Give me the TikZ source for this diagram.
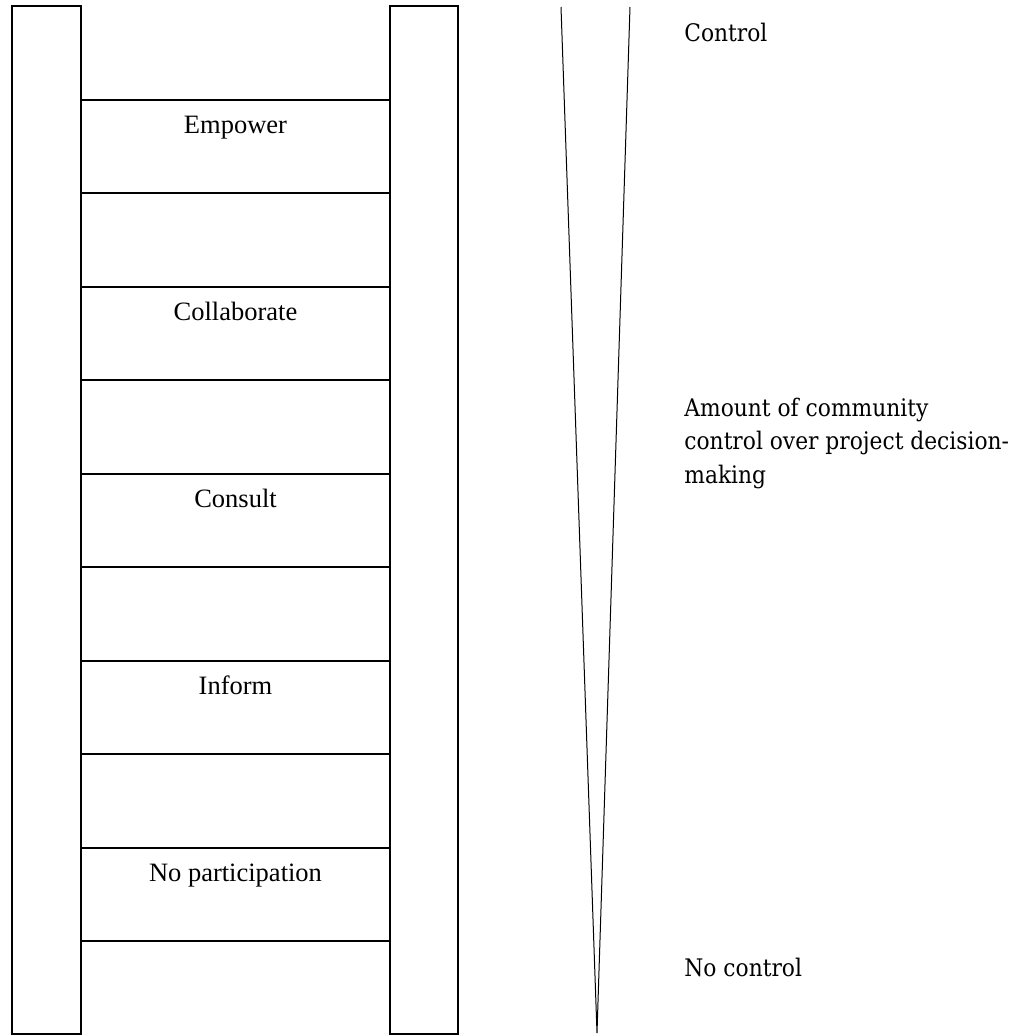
\documentclass[tikz,border=0pt]{standalone}
\usepackage{fontspec}
\setmainfont{Liberation Serif}
\newfontfamily\sidefont{DejaVu Serif Condensed}
\usetikzlibrary{calc,positioning}

\begin{document}
\begin{tikzpicture}[
    x=0.5pt, y=-0.5pt,
    rail/.style={draw, line width=1pt},
    rung/.style={draw, line width=1pt, minimum width=154.5pt, minimum height=46.5pt, inner sep=0pt},
    rungtext/.style={anchor=base, font=\fontsize{13.25}{16}\selectfont},
    sidetext/.style={anchor=base west, align=left, inner sep=0pt, font=\sidefont\fontsize{12.1}{16.75}\selectfont},
    wedge/.style={line width=0.5pt},
]
\useasboundingbox (0,0) rectangle (1034,1035);

% Ladder rails
\draw[rail] (12,6) rectangle (81,1034);
\draw[rail] (390,6) rectangle (458,1034);

% Rungs, top to bottom
\node[rung] (empower) at (235.5,146.5) {};
\node[rung] (collab) at (235.5,333.5) {};
\node[rung] (consult) at (235.5,520.5) {};
\node[rung] (inform) at (235.5,707.5) {};
\node[rung] (none) at (235.5,894.5) {};

\node[rungtext] (empowertxt) at ([yshift=-17pt]empower.north) {Empower};
\node[rungtext] (collabtxt) at ([yshift=-17pt]collab.north) {Collaborate};
\node[rungtext] (consulttxt) at ([yshift=-17pt]consult.north) {Consult};
\node[rungtext] (informtxt) at ([yshift=-17pt]inform.north) {Inform};
\node[rungtext] (nonetxt) at ([yshift=-17pt]none.north) {No participation};

% Wedge of control
\coordinate (wedgel) at (561,7);
\coordinate (wedger) at (630,7);
\coordinate (tip) at (597,1033);
\draw[wedge] (wedgel) -- (tip) -- (wedger);

% Side labels
\node[sidetext] (top) at (684,41) {Control};
\node[sidetext] (mid) at (684,483) {Amount of community\\control over project decision-\\making};
\node[sidetext] (bottom) at (684,976) {No control};

\end{tikzpicture}
\end{document}
